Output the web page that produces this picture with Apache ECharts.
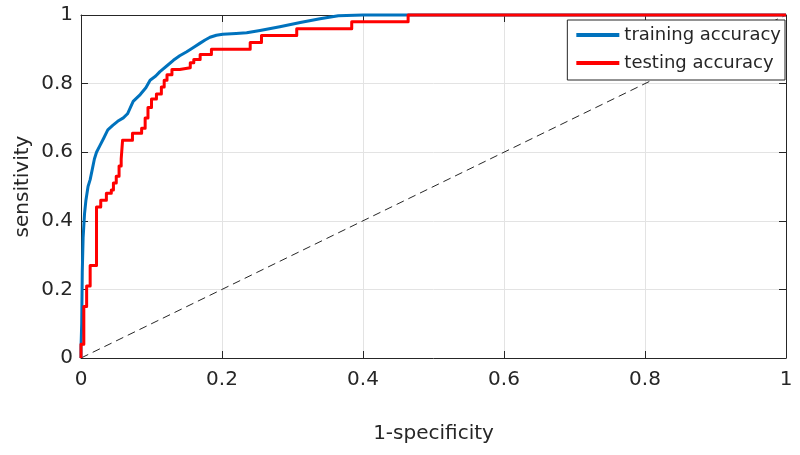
<!DOCTYPE html>
<html>
<head>
<meta charset="utf-8">
<script src="https://cdn.jsdelivr.net/npm/echarts@6/dist/echarts.min.js"></script>
<style>html,body{margin:0;padding:0;background:#fff;}#c{width:800px;height:455px;}</style>
</head>
<body>
<div id="c"></div>
<script>
// Training ROC (false positive rate / true positive rate)
const trainFpr = [0, 0, 0.001, 0.0018, 0.003, 0.005, 0.007, 0.010, 0.013, 0.016, 0.019, 0.022, 0.027, 0.032, 0.038, 0.045, 0.052, 0.060, 0.066, 0.070, 0.074, 0.084, 0.092, 0.098, 0.106, 0.112, 0.122, 0.131, 0.140, 0.150, 0.160, 0.169, 0.176, 0.183, 0.192, 0.201, 0.220, 0.235, 0.254, 0.282, 0.311, 0.339, 0.365, 0.40, 1];
const trainTpr = [0, 0.03, 0.10, 0.25, 0.35, 0.42, 0.46, 0.50, 0.52, 0.55, 0.58, 0.60, 0.62, 0.64, 0.665, 0.678, 0.69, 0.70, 0.712, 0.73, 0.748, 0.768, 0.788, 0.81, 0.822, 0.835, 0.852, 0.868, 0.881, 0.893, 0.906, 0.918, 0.927, 0.935, 0.941, 0.944, 0.946, 0.948, 0.955, 0.966, 0.978, 0.989, 0.998, 1, 1];
// Testing ROC (staircase)
const testFpr = [0, 0, 0.004, 0.008, 0.013, 0.022, 0.028, 0.036, 0.043, 0.046, 0.050, 0.054, 0.057, 0.059, 0.073, 0.086, 0.091, 0.095, 0.100, 0.107, 0.114, 0.118, 0.122, 0.129, 0.140, 0.155, 0.160, 0.169, 0.185, 0.240, 0.256, 0.306, 0.384, 0.464, 1];
const testTpr = [0, 0.04, 0.15, 0.21, 0.27, 0.44, 0.46, 0.48, 0.49, 0.51, 0.53, 0.56, 0.58, 0.635, 0.655, 0.67, 0.70, 0.73, 0.755, 0.77, 0.79, 0.81, 0.826, 0.841, 0.846, 0.861, 0.870, 0.885, 0.90, 0.92, 0.94, 0.96, 0.98, 1.0, 1];
// Chance diagonal
const diagX = [0, 1];
const diagY = [0, 1];
const seriesNames = ['training accuracy', 'testing accuracy'];
const xAxisTitle = '1-specificity';
const yAxisTitle = 'sensitivity';

const zip = (a, b) => a.map((v, i) => [v, b[i]]);
const FONT = 'DejaVu Sans';
const AX = '#262626';

const chart = echarts.init(document.getElementById('c'), null, {renderer: 'canvas'});
const axCommon = {
  type: 'value', min: 0, max: 1, interval: 0.2,
  axisLine: {show: true, onZero: false, lineStyle: {color: AX, width: 1}},
  axisTick: {show: true, inside: true, length: 7, lineStyle: {color: AX}},
};
chart.setOption({
  animation: false,
  backgroundColor: '#fff',
  grid: {left: 81, right: 14, top: 15, bottom: 97, containLabel: false},
  legend: {
    data: seriesNames,
    orient: 'vertical',
    right: 15, top: 20,
    align: 'left',
    icon: 'rect', itemWidth: 43, itemHeight: 4, itemGap: 8,
    padding: [5, 4, 7, 9],
    backgroundColor: '#fff',
    borderColor: AX, borderWidth: 1, borderRadius: 0,
    textStyle: {fontFamily: FONT, fontSize: 18, color: AX, lineHeight: 20},
    selectedMode: false
  },
  xAxis: [
    Object.assign({}, axCommon, {
      position: 'bottom',
      name: xAxisTitle, nameLocation: 'middle', nameGap: 66, nameMoveOverlap: false,
      nameTextStyle: {fontFamily: FONT, fontSize: 20, color: AX},
      axisLabel: {fontFamily: FONT, fontSize: 20, color: AX, margin: 12},
      splitLine: {show: true, lineStyle: {color: '#e3e3e3', width: 1}}
    }),
    Object.assign({}, axCommon, {
      position: 'top',
      axisLabel: {show: false}, splitLine: {show: false}
    })
  ],
  yAxis: [
    Object.assign({}, axCommon, {
      position: 'left',
      name: yAxisTitle, nameLocation: 'middle', nameGap: 48, nameRotate: 90, nameMoveOverlap: false,
      nameTextStyle: {fontFamily: FONT, fontSize: 20, color: AX},
      axisLabel: {fontFamily: FONT, fontSize: 20, color: AX, margin: 8},
      splitLine: {show: true, lineStyle: {color: '#e3e3e3', width: 1}}
    }),
    Object.assign({}, axCommon, {
      position: 'right',
      axisLabel: {show: false}, splitLine: {show: false}
    })
  ],
  series: [
    {
      name: 'chance', type: 'line', data: zip(diagX, diagY),
      symbol: 'none', silent: true, z: 1,
      lineStyle: {color: AX, width: 1, type: [8, 5]}
    },
    {
      name: seriesNames[0], type: 'line', data: zip(trainFpr, trainTpr),
      symbol: 'none', clip: false, z: 3,
      itemStyle: {color: '#0072BD'},
      lineStyle: {color: '#0072BD', width: 3, join: 'round'}
    },
    {
      name: seriesNames[1], type: 'line', step: 'end', data: zip(testFpr, testTpr),
      symbol: 'none', clip: false, z: 4,
      itemStyle: {color: '#FF0000'},
      lineStyle: {color: '#FF0000', width: 3, join: 'round'}
    }
  ]
});
</script>
</body>
</html>
